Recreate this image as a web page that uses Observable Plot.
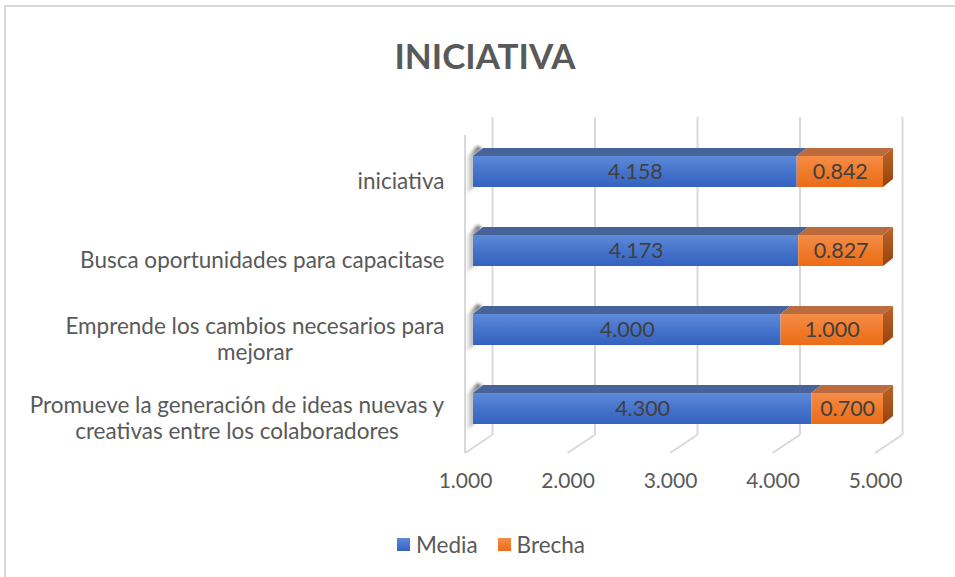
<!DOCTYPE html>
<html><head><meta charset="utf-8">
<script src="https://cdn.jsdelivr.net/npm/d3@7"></script>
<script src="https://cdn.jsdelivr.net/npm/@observablehq/plot@0.6"></script>
<style>
body{margin:0;background:#fff;font-family:Lato,"Open Sans",sans-serif;}
#wrap{position:relative;width:955px;height:577px;overflow:hidden;background:#fff;}
#border{position:absolute;left:4px;top:5px;width:980px;height:620px;border-left:2px solid #d9d9d9;border-top:2px solid #d9d9d9;}
#title{position:absolute;left:0;width:970px;top:34px;line-height:42px;text-align:center;font-weight:700;font-size:35px;color:#595959;}
#chart{position:absolute;left:0;top:100px;}
#legend{position:absolute;left:397px;top:532px;height:24px;display:flex;align-items:center;font-size:22.5px;color:#595959;}
.sw{display:inline-block;width:13px;height:13px;margin-right:6px;}
.item{display:flex;align-items:center;margin-right:20px;}
</style></head>
<body>
<div id="wrap">
  <div id="border"></div>
  <div id="title">INICIATIVA</div>
  <div id="chart"></div>
  <div id="legend"></div>
</div>
<script>
const categories = [
  "iniciativa",
  "Busca oportunidades para capacitase",
  "Emprende los cambios necesarios para mejorar",
  "Promueve la generación de ideas nuevas y creativas entre los colaboradores"
];
const labelLines = [
  ["iniciativa"],
  ["Busca oportunidades para capacitase"],
  ["Emprende los cambios necesarios para", "mejorar"],
  ["Promueve la generación de ideas nuevas y", "creativas entre los colaboradores"]
];
const media  = [4.158, 4.173, 4.000, 4.300];
const brecha = [0.842, 0.827, 1.000, 0.700];
const seriesNames = ["Media", "Brecha"];
const xTicks = [1, 2, 3, 4, 5];
const base = 1;

const fmt = d3.format(".3f");
const segs = categories.flatMap((c, i) => [
  {cat: c, series: "Media", x1: base, x2: media[i], v: media[i]},
  {cat: c, series: "Brecha", x1: media[i], x2: media[i] + brecha[i], v: brecha[i]}
]);

const FONT = "Lato";
const FS = 21;       // numbers
const LFS = 22.5;    // category labels
const BX = 8;            // bar front face offset from front plane
const TDX = 10, TDY = -8; // bar depth
const WDX = 27, WDY = -18; // wall depth

const ctx = document.createElement("canvas").getContext("2d");
ctx.font = `${LFS}px ${FONT}`;
const labelRight = 444;

const defs = () => {
  const d = d3.create("svg:defs");
  const lg = (id, stops, x2 = 0, y2 = 1) => {
    const g = d.append("linearGradient").attr("id", id).attr("x1", 0).attr("y1", 0).attr("x2", x2).attr("y2", y2);
    stops.forEach(([o, c]) => g.append("stop").attr("offset", o).attr("stop-color", c));
  };
  lg("gBlue", [[0, "#5f8ad9"], [0.5, "#4674cb"], [1, "#3362c0"]]);
  lg("gOrange", [[0, "#f58d47"], [0.5, "#f07b2c"], [1, "#ea6c18"]]);
  lg("gSide", [[0, "#bd6327"], [1, "#94440f"]]);
  lg("gShadow", [[0, "rgba(60,60,60,0)"], [1, "rgba(50,50,50,0.9)"]], 1, 0);
  d.append("filter").attr("id", "blur").attr("x", "-50%").attr("y", "-50%").attr("width", "200%").attr("height", "200%")
    .append("feGaussianBlur").attr("stdDeviation", 1.6);
  return d.node();
};

const walls = (index, {x}, values, dims) => {
  const g = d3.create("svg:g").attr("stroke", "#d9d9d9").attr("stroke-width", 2).attr("fill", "none");
  const yBackBottom = dims.height - dims.marginBottom;
  const yFront = yBackBottom - WDY;
  xTicks.forEach(t => {
    g.append("line").attr("x1", x(t)).attr("y1", yFront).attr("x2", x(t) + WDX).attr("y2", yBackBottom);
  });
  g.append("line").attr("x1", x(base)).attr("x2", x(base))
    .attr("y1", dims.marginTop - WDY).attr("y2", yFront);
  return g.node();
};

const bars3d = (index, {x, y}) => {
  const g = d3.create("svg:g");
  const bw = y.bandwidth ? y.bandwidth() : 31;
  categories.forEach(c => {
    const yt = y(c);
    const xl = x(base);
    g.append("polygon")
      .attr("points", [[xl + 1, yt + bw + 8], [xl + 1, yt + 2], [xl + 12, yt - 10], [xl + 17, yt - 8], [xl + 9, yt + 1], [xl + 9, yt + bw]].join(" "))
      .attr("fill", "url(#gShadow)").attr("filter", "url(#blur)");
  });
  segs.forEach(d => {
    const yt = y(d.cat);
    const xa = x(d.x1) + BX, xb = x(d.x2) + BX;
    g.append("polygon")
      .attr("points", [[xa, yt], [xb, yt], [xb + TDX, yt + TDY], [xa + TDX, yt + TDY]].join(" "))
      .attr("fill", d.series === "Media" ? "#47639c" : "#bb6b3e");
    if (d.series === "Brecha") {
      g.append("polygon")
        .attr("points", [[xb, yt], [xb + TDX, yt + TDY], [xb + TDX, yt + bw + TDY], [xb, yt + bw]].join(" "))
        .attr("fill", "url(#gSide)");
    }
  });
  return g.node();
};

const labelMarks = categories.map((c, i) => {
  const w = d3.max(labelLines[i], l => ctx.measureText(l).width);
  return Plot.text([c], {
    y: d => d,
    frameAnchor: "left",
    text: () => labelLines[i].join("\n"),
    textAnchor: "middle",
    lineHeight: 1.16,
    dx: labelRight - 465 - w / 2,
    dy: 9,
    fill: "#595959",
    fontSize: LFS
  });
});

const plot = Plot.plot({
  width: 955,
  height: 420,
  marginLeft: 465,
  marginRight: 80,
  marginTop: 17,
  marginBottom: 85,
  x: {domain: [1, 5], axis: null},
  y: {domain: categories, range: [32, 348], paddingInner: 0.6076, paddingOuter: 0.3038, axis: null},
  style: {fontFamily: FONT, overflow: "visible", background: "transparent"},
  marks: [
    defs,
    Plot.ruleX(xTicks, {x: d => d, dx: WDX, stroke: "#d9d9d9", strokeWidth: 2, strokeOpacity: 1}),
    walls,
    bars3d,
    Plot.rect(segs.filter(d => d.series === "Media"), {x1: "x1", x2: "x2", y: "cat", dx: BX, fill: "url(#gBlue)"}),
    Plot.rect(segs.filter(d => d.series === "Brecha"), {x1: "x1", x2: "x2", y: "cat", dx: BX, fill: "url(#gOrange)"}),
    Plot.text(segs, {x: d => (d.x1 + d.x2) / 2, y: "cat", dx: BX, text: d => fmt(d.v), fill: "#404040", fontSize: 21.5}),
    Plot.text(xTicks, {x: d => d, frameAnchor: "bottom", dy: 52, text: d => fmt(d), fill: "#595959", fontSize: FS}),
    ...labelMarks
  ]
});
document.getElementById("chart").appendChild(plot);

const legend = document.getElementById("legend");
const swFill = {Media: "linear-gradient(#5f8ad9,#3362c0)", Brecha: "linear-gradient(#f58d47,#ea6c18)"};
seriesNames.forEach(s => {
  const it = document.createElement("div");
  it.className = "item";
  it.innerHTML = `<span class="sw" style="background:${swFill[s]}"></span><span>${s}</span>`;
  legend.appendChild(it);
});
</script>
</body></html>
